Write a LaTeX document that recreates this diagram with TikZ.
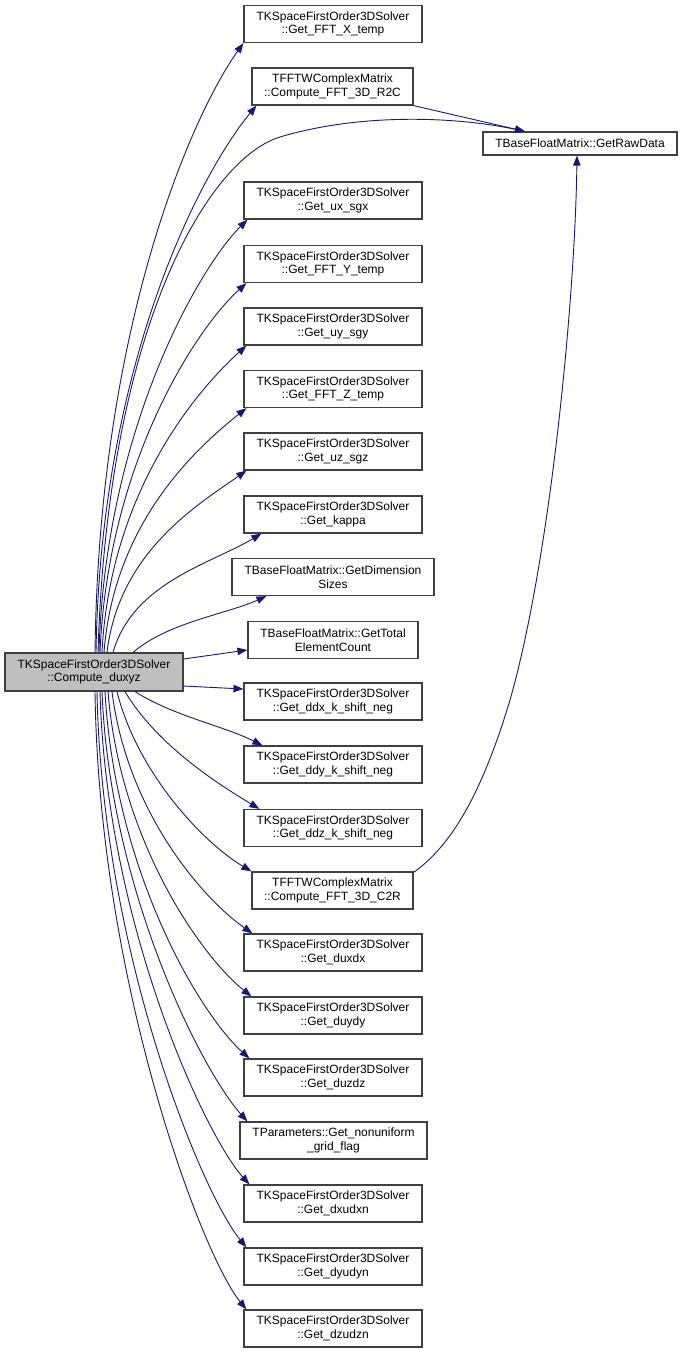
\documentclass[tikz,border=0pt]{standalone}
\usepackage{fontspec}
\setmainfont{Liberation Sans}
\usetikzlibrary{positioning,calc,arrows.meta}
\definecolor{edgeblue}{HTML}{191970}
\definecolor{callergray}{HTML}{BFBFBF}

\begin{document}
\begin{tikzpicture}[x=1pt, y=-1pt,
        fn/.style={draw=black!75, line width=1.2pt, fill=white, align=center, inner sep=0pt,
            minimum width=178pt, minimum height=37pt, font=\fontsize{12}{13.5}\selectfont},
        call/.style={draw=edgeblue, line width=0.9pt, -{Triangle[length=10pt,width=7.5pt]}}]
        \useasboundingbox (0,0) rectangle (683,1353);
        % the caller
        \node[fn, fill=callergray, minimum height=38pt] (main) at (94,672) {TKSpaceFirstOrder3DSolver\\::Compute\_duxyz};
        % the callees
        \node[fn] (fftx) at (333,24) {TKSpaceFirstOrder3DSolver\\::Get\_FFT\_X\_temp};
        \node[fn, minimum width=161pt] (rtoc) at (332.5,86.5) {TFFTWComplexMatrix\\::Compute\_FFT\_3D\_R2C};
        \node[fn, minimum width=194pt, minimum height=23pt] (rawdata) at (580,143.5) {TBaseFloatMatrix::GetRawData};
        \node[fn] (uxsgx) at (333,200.5) {TKSpaceFirstOrder3DSolver\\::Get\_ux\_sgx};
        \node[fn] (ffty) at (333,264) {TKSpaceFirstOrder3DSolver\\::Get\_FFT\_Y\_temp};
        \node[fn] (uysgy) at (333,326.5) {TKSpaceFirstOrder3DSolver\\::Get\_uy\_sgy};
        \node[fn] (fftz) at (333,389) {TKSpaceFirstOrder3DSolver\\::Get\_FFT\_Z\_temp};
        \node[fn] (uzsgz) at (333,451.5) {TKSpaceFirstOrder3DSolver\\::Get\_uz\_sgz};
        \node[fn] (kappa) at (333,514.5) {TKSpaceFirstOrder3DSolver\\::Get\_kappa};
        \node[fn, minimum width=202pt] (dimsizes) at (333,577) {TBaseFloatMatrix::GetDimension\\Sizes};
        \node[fn, minimum width=170pt] (elemcount) at (333,640) {TBaseFloatMatrix::GetTotal\\ElementCount};
        \node[fn] (ddx) at (333,701.5) {TKSpaceFirstOrder3DSolver\\::Get\_ddx\_k\_shift\_neg};
        \node[fn] (ddy) at (333,764.5) {TKSpaceFirstOrder3DSolver\\::Get\_ddy\_k\_shift\_neg};
        \node[fn] (ddz) at (333,828) {TKSpaceFirstOrder3DSolver\\::Get\_ddz\_k\_shift\_neg};
        \node[fn, minimum width=161pt] (ctor) at (332.5,890.5) {TFFTWComplexMatrix\\::Compute\_FFT\_3D\_C2R};
        \node[fn] (duxdx) at (333,952.5) {TKSpaceFirstOrder3DSolver\\::Get\_duxdx};
        \node[fn] (duydy) at (333,1015.5) {TKSpaceFirstOrder3DSolver\\::Get\_duydy};
        \node[fn] (duzdz) at (333,1077.5) {TKSpaceFirstOrder3DSolver\\::Get\_duzdz};
        \node[fn, minimum width=187pt] (gridflag) at (333.5,1140.5) {TParameters::Get\_nonuniform\\\_grid\_flag};
        \node[fn] (dxudxn) at (333,1203.5) {TKSpaceFirstOrder3DSolver\\::Get\_dxudxn};
        \node[fn] (dyudyn) at (333,1266.5) {TKSpaceFirstOrder3DSolver\\::Get\_dyudyn};
        \node[fn] (dzudzn) at (333,1328.5) {TKSpaceFirstOrder3DSolver\\::Get\_dzudzn};
        % calls going up
        \draw[call] ([xshift=1]main.north) .. controls +(4,-330) and +(-50,70) .. (fftx.south west);
        \draw[call] ([xshift=2]main.north) .. controls +(5,-300) and +(-50,60) .. ([xshift=5]rtoc.south west);
        \coordinate (rawbend) at (280,137);
        \draw[call] ([xshift=4]main.north) .. controls +(10,-330) and +(-70,21) .. (rawbend)
            .. controls +(80,-24) and +(-70,-15) .. ([xshift=-55]rawdata.north);
        \draw[call] ([xshift=5]main.north) .. controls +(6,-220) and +(-50,50) .. ([xshift=4]uxsgx.south west);
        \draw[call] ([xshift=6]main.north) .. controls +(8,-190) and +(-50,45) .. ([xshift=3]ffty.south west);
        \draw[call] ([xshift=8]main.north) .. controls +(8,-160) and +(-50,45) .. ([xshift=3]uysgy.south west);
        \draw[call] ([xshift=10]main.north) .. controls +(10,-130) and +(-50,40) .. ([xshift=3]fftz.south west);
        \draw[call] ([xshift=13]main.north) .. controls +(12,-100) and +(-50,35) .. ([xshift=3]uzsgz.south west);
        \draw[call] ([xshift=19]main.north) .. controls +(20,-70) and +(-50,30) .. ([xshift=18]kappa.south west);
        \draw[call] ([xshift=39]main.north) .. controls +(35,-30) and +(-40,18) .. ([xshift=35]dimsizes.south west);
        \draw[call] ([yshift=13]main.east) -- ([yshift=-10]elemcount.west);
        \draw[call] ([yshift=-14]main.east) -- ([yshift=12.5]ddx.west);
        % calls going down
        \draw[call] ([xshift=41]main.south) .. controls +(40,25) and +(-40,-20) .. ([xshift=19]ddy.north west);
        \draw[call] ([xshift=31]main.south) .. controls +(30,50) and +(-50,-30) .. ([xshift=16]ddz.north west);
        \draw[call] ([xshift=23]main.south) .. controls +(20,80) and +(-50,-30) .. (ctor.north west);
        \draw[call] ([xshift=18]main.south) .. controls +(15,120) and +(-50,-35) .. ([xshift=9]duxdx.north west);
        \draw[call] ([xshift=14]main.south) .. controls +(12,150) and +(-50,-40) .. ([xshift=8]duydy.north west);
        \draw[call] ([xshift=11]main.south) .. controls +(10,180) and +(-50,-45) .. ([xshift=6]duzdz.north west);
        \draw[call] ([xshift=8]main.south) .. controls +(8,200) and +(-45,-50) .. ([xshift=8]gridflag.north west);
        \draw[call] ([xshift=6]main.south) .. controls +(6,230) and +(-45,-50) .. ([xshift=6]dxudxn.north west);
        \draw[call] ([xshift=3]main.south) .. controls +(5,260) and +(-45,-55) .. ([xshift=3]dyudyn.north west);
        \draw[call] ([xshift=1]main.south) .. controls +(4,290) and +(-45,-55) .. ([xshift=3]dzudzn.north west);
        % calls into the raw data
        \draw[call] (rtoc.south east) -- ([xshift=-55]rawdata.north);
        \draw[call] ([yshift=-1]ctor.north east) .. controls +(35,-25) and +(-30,100) .. (510,700)
            .. controls +(40,-140) and +(-2,145) .. ([xshift=-3]rawdata.south);
\end{tikzpicture}
\end{document}
